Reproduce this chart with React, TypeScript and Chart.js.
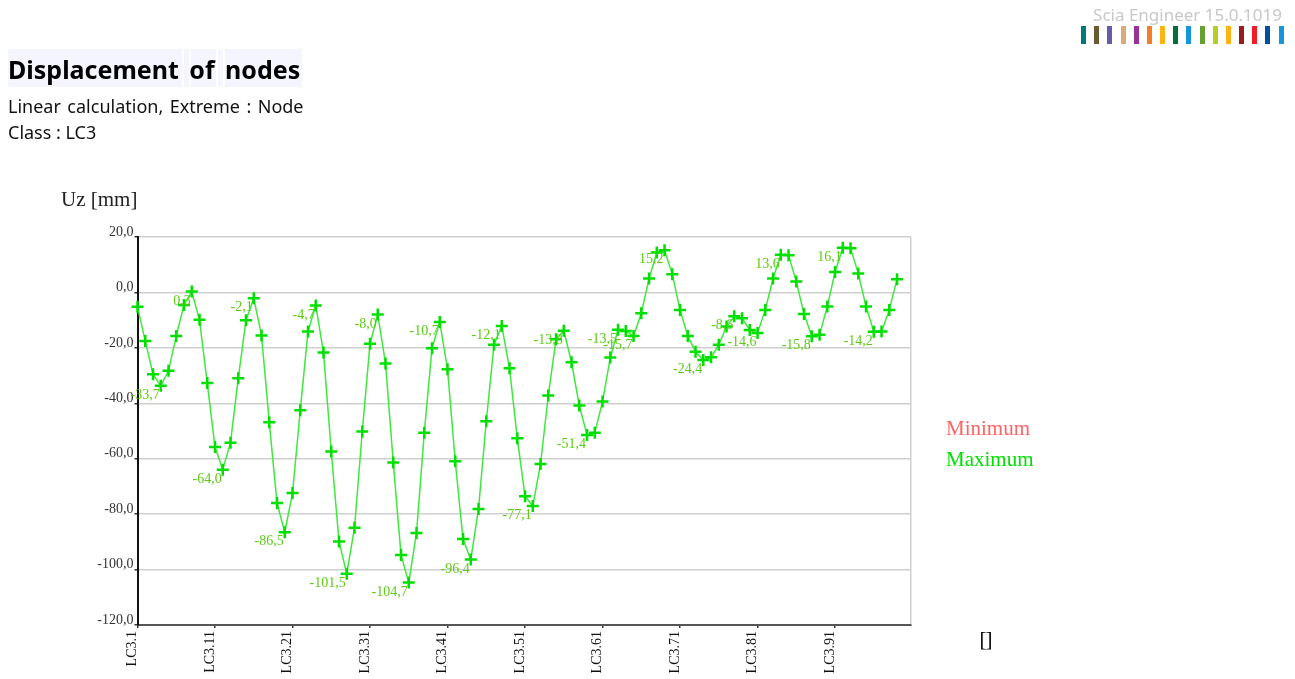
import React, { useEffect, useRef } from "react";
import { Chart, registerables } from "chart.js";

Chart.register(...registerables);

const SERIES_NAME = "Maximum";
const xTickLabels = ["LC3.1", "LC3.11", "LC3.21", "LC3.31", "LC3.41", "LC3.51", "LC3.61", "LC3.71", "LC3.81", "LC3.91"];
const uzValues = [
  -5.2, -17.5, -29.5, -33.7, -28.3, -15.7, -4.5, 0.3, -9.9, -32.7,
  -55.8, -64.0, -54.2, -31.0, -10.0, -2.1, -15.5, -46.8, -76.0, -86.5,
  -72.4, -42.5, -14.1, -4.7, -21.7, -57.4, -89.9, -101.5, -84.9, -50.2,
  -18.5, -8.0, -25.6, -61.4, -94.7, -104.7, -86.8, -50.6, -20.1, -10.7,
  -27.7, -60.9, -89.0, -96.4, -78.1, -46.5, -18.9, -12.1, -27.4, -52.6,
  -73.5, -77.1, -61.9, -37.2, -16.9, -13.8, -25.2, -40.8, -51.4, -50.6,
  -39.4, -23.5, -13.5, -13.9, -15.7, -7.5, 5.0, 14.4, 15.2, 6.6,
  -6.3, -15.7, -21.4, -24.4, -23.4, -18.9, -12.3, -8.6, -9.3, -13.6,
  -14.6, -6.3, 5.0, 13.6, 13.4, 3.9, -7.8, -15.8, -15.3, -5.1,
  7.4, 16.1, 15.9, 6.8, -5.1, -14.2, -14.1, -6.3, 4.8,
];
const extremeIndexes = [3, 7, 11, 15, 19, 23, 27, 31, 35, 39, 43, 47, 51, 55, 58, 62, 64, 68, 73, 77, 80, 83, 87, 91, 95];
const extremeTexts = ["-33,7", "0,3", "-64,0", "-2,1", "-86,5", "-4,7", "-101,5", "-8,0", "-104,7", "-10,7", "-96,4", "-12,1", "-77,1", "-13,8", "-51,4", "-13,5", "-15,7", "15,2", "-24,4", "-8,6", "-14,6", "13,6", "-15,8", "16,1", "-14,2"];
const brandColors = ["#007a78", "#6b5a30", "#6a5aa8", "#dcaa78", "#96329a", "#f57d28", "#ffb414", "#007038", "#1496dc", "#64a032", "#b4cd28", "#ffb414", "#961e1e", "#f01e28", "#0050a0", "#1496dc"];
const titleBackdrops = [[8, 174], [184, 5], [191, 25], [218, 5], [225, 77]];

const SERIF = '"Liberation Serif", serif';
const SANS = '"Noto Sans", sans-serif';
const X_MAX = 99.8;

const extremeLabelsPlugin = {
  id: "extremeLabels",
  afterDatasetsDraw(chart: any) {
    const { ctx, scales } = chart;
    ctx.save();
    ctx.font = `14px ${SERIF}`;
    ctx.fillStyle = "#5ccb14";
    ctx.textAlign = "right";
    ctx.textBaseline = "middle";
    extremeIndexes.forEach((idx, i) => {
      ctx.fillText(extremeTexts[i], scales.x.getPixelForValue(idx) - 1, scales.y.getPixelForValue(uzValues[idx]) + 9.5);
    });
    ctx.restore();
  },
};

const abs = (left: number, top: number, extra: React.CSSProperties = {}): React.CSSProperties => ({
  position: "absolute",
  left,
  top,
  whiteSpace: "pre",
  margin: 0,
  ...extra,
});

export default function App() {
  const ref = useRef<HTMLCanvasElement>(null);
  useEffect(() => {
    const chart = new Chart(ref.current as HTMLCanvasElement, {
      type: "line",
      data: {
        datasets: [
          {
            label: SERIES_NAME,
            data: uzValues.map((y, x) => ({ x, y })),
            borderColor: "#3ee83e",
            borderWidth: 1.5,
            pointStyle: "cross",
            pointRadius: 6,
            pointBorderColor: "#00e000",
            pointBorderWidth: 2.5,
            tension: 0,
            clip: false,
          },
        ],
      },
      options: {
        animation: false,
        responsive: false,
        layout: { padding: { left: 37, top: 237, right: 384, bottom: 0 } },
        plugins: { legend: { display: false }, tooltip: { enabled: false } },
        scales: {
          x: {
            type: "linear",
            min: 0,
            max: X_MAX,
            afterFit(s: any) {
              s.height = 54;
            },
            border: { color: "#555", width: 2 },
            grid: {
              color: (c: any) => (c.tick && c.tick.value === X_MAX ? "#cfcfcf" : "transparent"),
              lineWidth: 1.5,
              tickColor: (c: any) => (c.tick && c.tick.value === X_MAX ? "transparent" : "#333"),
              tickLength: 3,
            },
            ticks: {
              stepSize: 10,
              autoSkip: false,
              minRotation: 90,
              maxRotation: 90,
              padding: 3,
              labelOffset: -5,
              color: "#111",
              font: { family: SERIF, size: 14 },
              callback: (v: any) => xTickLabels[Number(v) / 10] ?? "",
            },
          },
          y: {
            min: -120,
            max: 20,
            afterFit(s: any) {
              s.width = 100.5;
            },
            border: { color: "#111", width: 2 },
            grid: { color: "#cfcfcf", lineWidth: 1.5, tickColor: "#333", tickLength: 3 },
            ticks: {
              stepSize: 20,
              padding: 1,
              labelOffset: -5,
              color: "#333",
              font: { family: SERIF, size: 14 },
              callback: (v: any) => Number(v).toFixed(1).replace(".", ","),
            },
          },
        },
      },
      plugins: [extremeLabelsPlugin],
    } as any);
    return () => chart.destroy();
  }, []);

  return (
    <div style={{ position: "absolute", left: 0, top: 0, width: 1295, height: 679, overflow: "hidden", background: "#fff" }}>
      <canvas ref={ref} width={1295} height={679} style={{ position: "absolute", left: 0, top: 0, display: "block" }} />
      <div style={abs(1082, 3, { width: 200, textAlign: "right", font: `17px ${SANS}`, color: "#c8c8c8" })}>Scia Engineer 15.0.1019</div>
      {brandColors.map((c, i) => (
        <div key={i} style={abs(1081 + i * 13.17, 26, { width: 5, height: 18, background: c })} />
      ))}
      {titleBackdrops.map(([left, width], i) => (
        <div key={i} style={abs(left, 49, { width, height: 38, background: "#f5f5ff" })} />
      ))}
      <div style={abs(8, 51, { font: `bold 25px/36px ${SANS}`, color: "#000", wordSpacing: 4 })}>Displacement of nodes</div>
      <div style={abs(8, 94, { font: `18px/24px ${SANS}`, color: "#111", wordSpacing: 1.8 })}>Linear calculation, Extreme : Node</div>
      <div style={abs(8, 120, { font: `18px/24px ${SANS}`, color: "#111" })}>Class : LC3</div>
      <div style={abs(61, 186, { font: `21px/26px ${SERIF}`, color: "#222" })}>Uz [mm]</div>
      <div style={abs(946, 415, { font: `21px/26px ${SERIF}`, color: "#ff6464" })}>Minimum</div>
      <div style={abs(946, 446, { font: `21px/26px ${SERIF}`, color: "#00e000" })}>Maximum</div>
      <div style={abs(979.5, 626, { font: `21px/26px ${SERIF}`, color: "#000", letterSpacing: -1 })}>[]</div>
    </div>
  );
}
